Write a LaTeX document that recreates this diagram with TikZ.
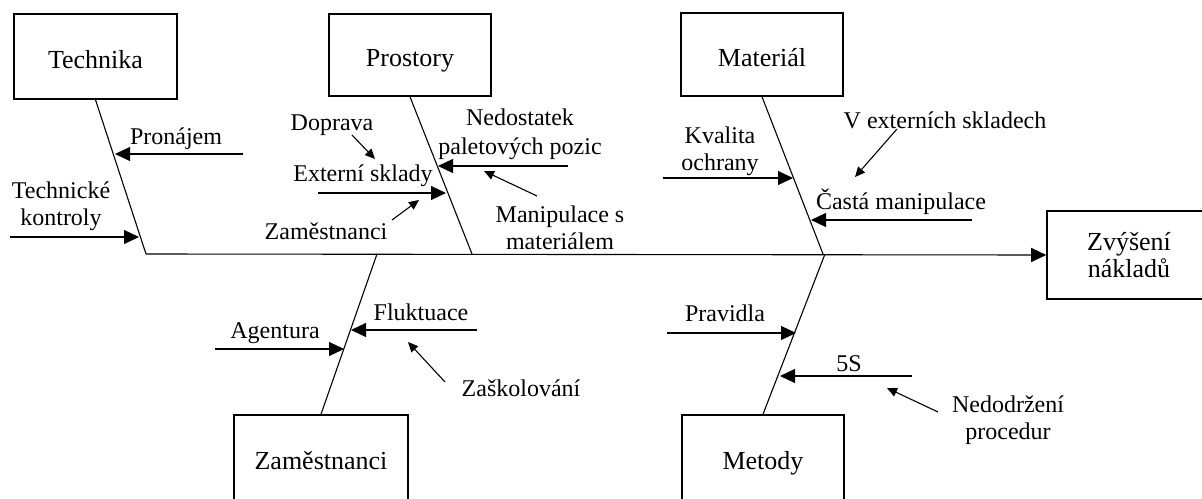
\documentclass[tikz,border=0pt]{standalone}
\usepackage{fontspec}
\setmainfont{Liberation Serif}
\usetikzlibrary{arrows.meta}
\begin{document}
\begin{tikzpicture}[x=1pt,y=-1pt,
  catbox/.style={draw,line width=1.6pt,inner sep=0,text height=24pt,text depth=1pt,font=\fontsize{26}{30}\selectfont},
  lbl/.style={inner sep=0,yshift=-2.5pt,font=\fontsize{24}{27}\selectfont,align=center},
  bone/.style={line width=1.1pt},
  cause/.style={line width=1.2pt,-{Triangle[length=15pt,width=14pt]}},
  subcause/.style={line width=1.1pt,-{Triangle[length=10pt,width=9pt]}}]
\useasboundingbox (0,0) rectangle (1202,498);
\clip (0,0) rectangle (1202,498);

% category boxes
\node[catbox,minimum width=163pt,minimum height=85pt] (tech) at (95.5,56.5) {Technika};
\node[catbox,minimum width=162pt,minimum height=82pt] (pros) at (410,55) {Prostory};
\node[catbox,minimum width=162pt,minimum height=83pt] (mat) at (762,54.5) {Materiál};
\node[catbox,minimum width=174pt,minimum height=85pt] (zam) at (321,457.5) {Zaměstnanci};
\node[catbox,minimum width=162pt,minimum height=85pt] (met) at (763,457.5) {Metody};
% effect box, running past the right edge of the page
\node[draw,line width=1.6pt,inner sep=0,minimum width=210pt,minimum height=88pt,
  label={[inner sep=0,xshift=-23pt,align=center,font=\fontsize{26}{27}\selectfont]center:Zvýšení\\nákladů}] (eff) at (1152,255) {};

% spine
\coordinate (sp0) at (146,254);
\coordinate (jP) at (472,254);
\coordinate (jM) at (823,254);
\coordinate (jZ) at (377,254);
\coordinate (jMe) at (825,254);
\draw[bone,-{Triangle[length=15pt,width=14pt]}] (sp0) -- (eff.west);

% bones
\draw[bone] (tech.south) -- (sp0);
\draw[bone] (pros.south) -- (jP);
\draw[bone] (mat.south) -- (jM);
\draw[bone] (zam.north) -- (jZ);
\draw[bone] (met.north) -- (jMe);

% Technika
\node[lbl] (pron) at (176,136) {Pronájem};
\coordinate (pronS) at (243,154);
\coordinate (pronT) at (115,154);
\draw[cause] (pronS) -- (pronT);
\node[lbl] (tk) at (61,204) {Technické\\kontroly};
\coordinate (tkS) at (10,237);
\coordinate (tkT) at (139,237);
\draw[cause] (tkS) -- (tkT);

% Prostory
\node[lbl] (dop) at (332,123) {Doprava};
\node[lbl] (ext) at (363,173) {Externí sklady};
\node[lbl] (zam2) at (326,229) {Zaměstnanci};
\coordinate (extS) at (318,193);
\coordinate (extT) at (446,193);
\draw[cause] (extS) -- (extT);
\coordinate (dopS) at (352,135);
\coordinate (dopT) at (375,159);
\draw[subcause] (dopS) -- (dopT);
\coordinate (zam2S) at (392,220);
\coordinate (zam2T) at (419,200);
\draw[subcause] (zam2S) -- (zam2T);
\node[lbl] (ned) at (520,131.5) {Nedostatek\\[2pt]paletových pozic};
\coordinate (nedS) at (568,166);
\coordinate (nedT) at (438,166);
\draw[cause] (nedS) -- (nedT);
\node[lbl] (manip) at (560,225.5) {Manipulace s\\materiálem};
\coordinate (manipS) at (537,196);
\coordinate (manipT) at (484,171);
\draw[subcause] (manipS) -- (manipT);

% Materiál
\node[lbl] (kval) at (720,148.5) {Kvalita\\ochrany};
\coordinate (kvalS) at (663,178);
\coordinate (kvalT) at (793,178);
\draw[cause] (kvalS) -- (kvalT);
\node[lbl] (vext) at (945,118) {V externích skladech};
\node[lbl] (cast) at (901,199) {Častá manipulace};
\coordinate (castS) at (972,220);
\coordinate (castT) at (811,220);
\draw[cause] (castS) -- (castT);
\coordinate (vextS) at (897,129);
\coordinate (vextT) at (855,177);
\draw[subcause] (vextS) -- (vextT);

% Zaměstnanci
\node[lbl] (agen) at (275,331) {Agentura};
\coordinate (agenS) at (215,349);
\coordinate (agenT) at (344,349);
\draw[cause] (agenS) -- (agenT);
\node[lbl] (fluk) at (421,310) {Fluktuace};
\coordinate (flukS) at (477,330);
\coordinate (flukT) at (351,330);
\draw[cause] (flukS) -- (flukT);
\node[lbl] (skol) at (521,386) {Zaškolování};
\coordinate (skolS) at (445,382);
\coordinate (skolT) at (408,342);
\draw[subcause] (skolS) -- (skolT);

% Metody
\node[lbl] (prav) at (725,311) {Pravidla};
\coordinate (pravS) at (667,333);
\coordinate (pravT) at (796,333);
\draw[cause] (pravS) -- (pravT);
\node[lbl] (fives) at (849,361) {5S};
\coordinate (fivesS) at (912,376);
\coordinate (fivesT) at (780,376);
\draw[cause] (fivesS) -- (fivesT);
\node[lbl] (nedod) at (1008,418) {Nedodržení\\procedur};
\coordinate (nedodS) at (938,412);
\coordinate (nedodT) at (887,388);
\draw[subcause] (nedodS) -- (nedodT);
\end{tikzpicture}
\end{document}
